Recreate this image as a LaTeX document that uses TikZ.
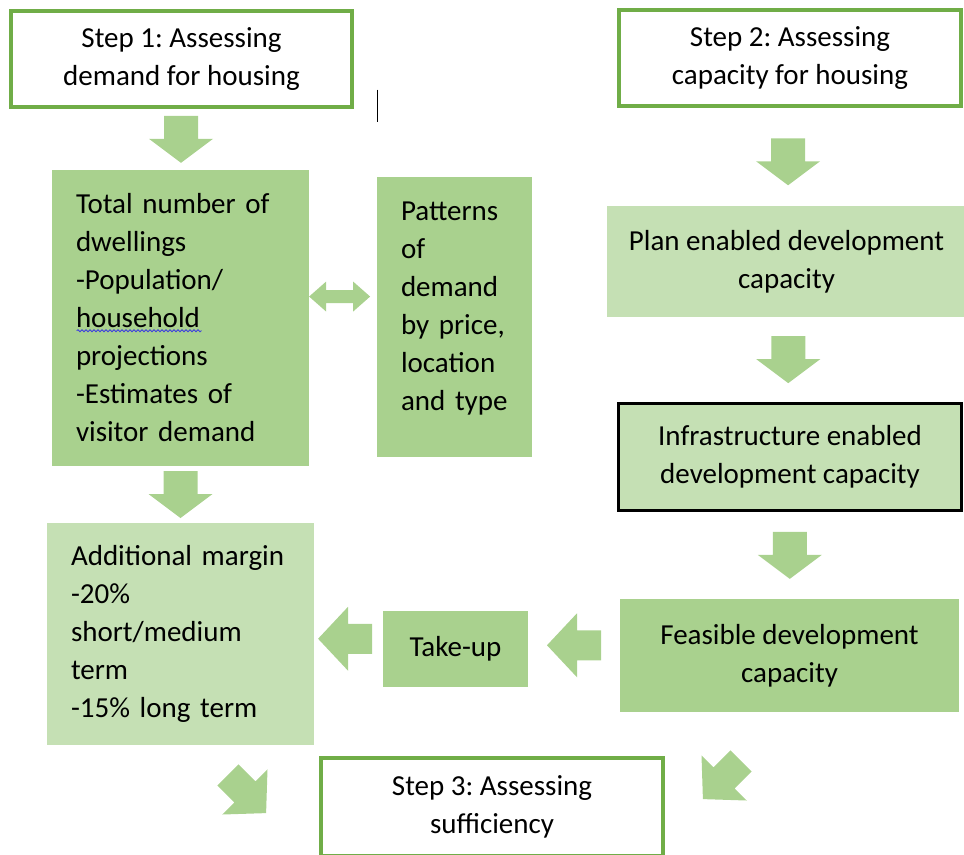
\documentclass[tikz,border=0pt]{standalone}
\usepackage{fontspec}
\setmainfont{Carlito}
\usetikzlibrary{positioning,calc,decorations.pathmorphing}
\definecolor{stepgreen}{HTML}{70AD47}
\definecolor{midgreen}{HTML}{A9D18E}
\definecolor{palegreen}{HTML}{C5E0B4}
\definecolor{spellblue}{HTML}{3A3AE0}
\frenchspacing

\tikzset{
  stepbox/.style={draw=stepgreen, line width=3pt, fill=white, align=center, inner sep=0pt},
  darkbox/.style={fill=midgreen, inner sep=0pt, align=center},
  lightbox/.style={fill=palegreen, inner sep=0pt, align=center},
  listbox/.style={align=left, inner xsep=18pt, inner ysep=0pt},
  % block arrows, all pointing along +x
  downblock/.pic={\fill[midgreen] (-23.5,-17) -- (-0.5,-17) -- (-0.5,-32) -- (23.5,0)
     -- (-0.5,32) -- (-0.5,17) -- (-23.5,17) -- cycle;},
  sideblock/.pic={\fill[midgreen] (-27,-15) -- (-3,-15) -- (-3,-32) -- (27,0)
     -- (-3,32) -- (-3,15) -- (-27,15) -- cycle;},
  bothblock/.pic={\fill[midgreen] (-30.5,0) -- (-13.5,-15) -- (-13.5,-6.5) -- (13.5,-6.5)
     -- (13.5,-15) -- (30.5,0) -- (13.5,15) -- (13.5,6.5) -- (-13.5,6.5) -- (-13.5,15) -- cycle;}
}

\begin{document}
\begin{tikzpicture}[x=0.75pt,y=-0.75pt,
    every node/.append style={font=\fontsize{21.75}{28.5}\selectfont}]
    \clip (0,0) rectangle (964,854);

    % Step 1 column
    \node[stepbox, minimum width=255.75pt, minimum height=72pt] (step1) at (181.5,59)
        {Step 1: Assessing\\demand for housing};
    \node[darkbox, listbox, text width=156.75pt, minimum width=192.75pt, minimum height=222pt] (total) at (180.5,318)
        {Total number of\\dwellings\\-Population/\\household\\projections\\-Estimates of\\visitor demand};
    \node[darkbox, listbox, text width=80.25pt, minimum width=116.25pt, minimum height=210pt] (patterns) at (454.5,317)
        {Patterns\\of\\demand\\by price,\\location\\and type\\[-12pt]\mbox{}};
    \node[lightbox, listbox, text width=164.25pt, minimum width=200.25pt, minimum height=166.5pt] (margin) at (180.5,634)
        {Additional margin\\-20\%\\short/medium\\term\\-15\% long term};
    \node[darkbox, minimum width=108.75pt, minimum height=57pt] (takeup) at (455.5,649) {Take-up};

    % Step 2 column
    \node[stepbox, minimum width=256.5pt, minimum height=72pt] (step2) at (790,58)
        {Step 2: Assessing\\capacity for housing};
    \node[lightbox, minimum width=269.25pt, minimum height=83.25pt] (plan) at (786.5,261.5)
        {Plan enabled development\\capacity};
    \node[lightbox, draw=black, line width=2.25pt, minimum width=257.25pt, minimum height=80.25pt] (infra) at (790,457)
        {Infrastructure enabled\\development capacity};
    \node[darkbox, minimum width=254.25pt, minimum height=84.75pt] (feasible) at (789.5,655.5)
        {Feasible development\\capacity};

    % Step 3
    \node[stepbox, minimum width=256.5pt, minimum height=73.5pt] (step3) at (492,807)
        {Step 3: Assessing\\sufficiency};

    % arrows between the boxes
    \pic[rotate=-90] at ($(step1.south)!0.5!(total.north)$) {downblock};
    \pic[rotate=-90] at ($(total.south)!0.5!(margin.north)$) {downblock};
    \pic[rotate=-90] at ($(step2.south)!0.55!(plan.north)$) {downblock};
    \pic[rotate=-90] at ($(plan.south)!0.5!(infra.north)$) {downblock};
    \pic[rotate=-90] at ($(infra.south)!0.5!(feasible.north)$) {downblock};
    \pic at ($(total.east)!0.45!(patterns.west)+(0,-21)$) {bothblock};
    \pic[rotate=180] at ($(takeup.west)!0.55!(margin.east)+(0,-2)$) {sideblock};
    \pic[rotate=180] at ($(feasible.west)!0.5!(takeup.east)+(0,-7)$) {sideblock};
    \coordinate (leftin) at ($(step3.north west)+(-72,38)$);
    \coordinate (rightin) at ($(step3.north east)+(57,24)$);
    \pic[rotate=-45] at (leftin) {sideblock};
    \pic[rotate=-135] at (rightin) {sideblock};

    % spell-check squiggle and text cursor
    \draw[spellblue, line width=0.6pt, decorate, decoration={snake, amplitude=0.8pt, segment length=3pt}]
        ($(total.north west)+(25,161)$) -- ($(total.north west)+(150,161)$);
    \draw[line width=0.75pt] ($(patterns.north west)+(1,-87)$) -- ($(patterns.north west)+(1,-55)$);
\end{tikzpicture}
\end{document}
